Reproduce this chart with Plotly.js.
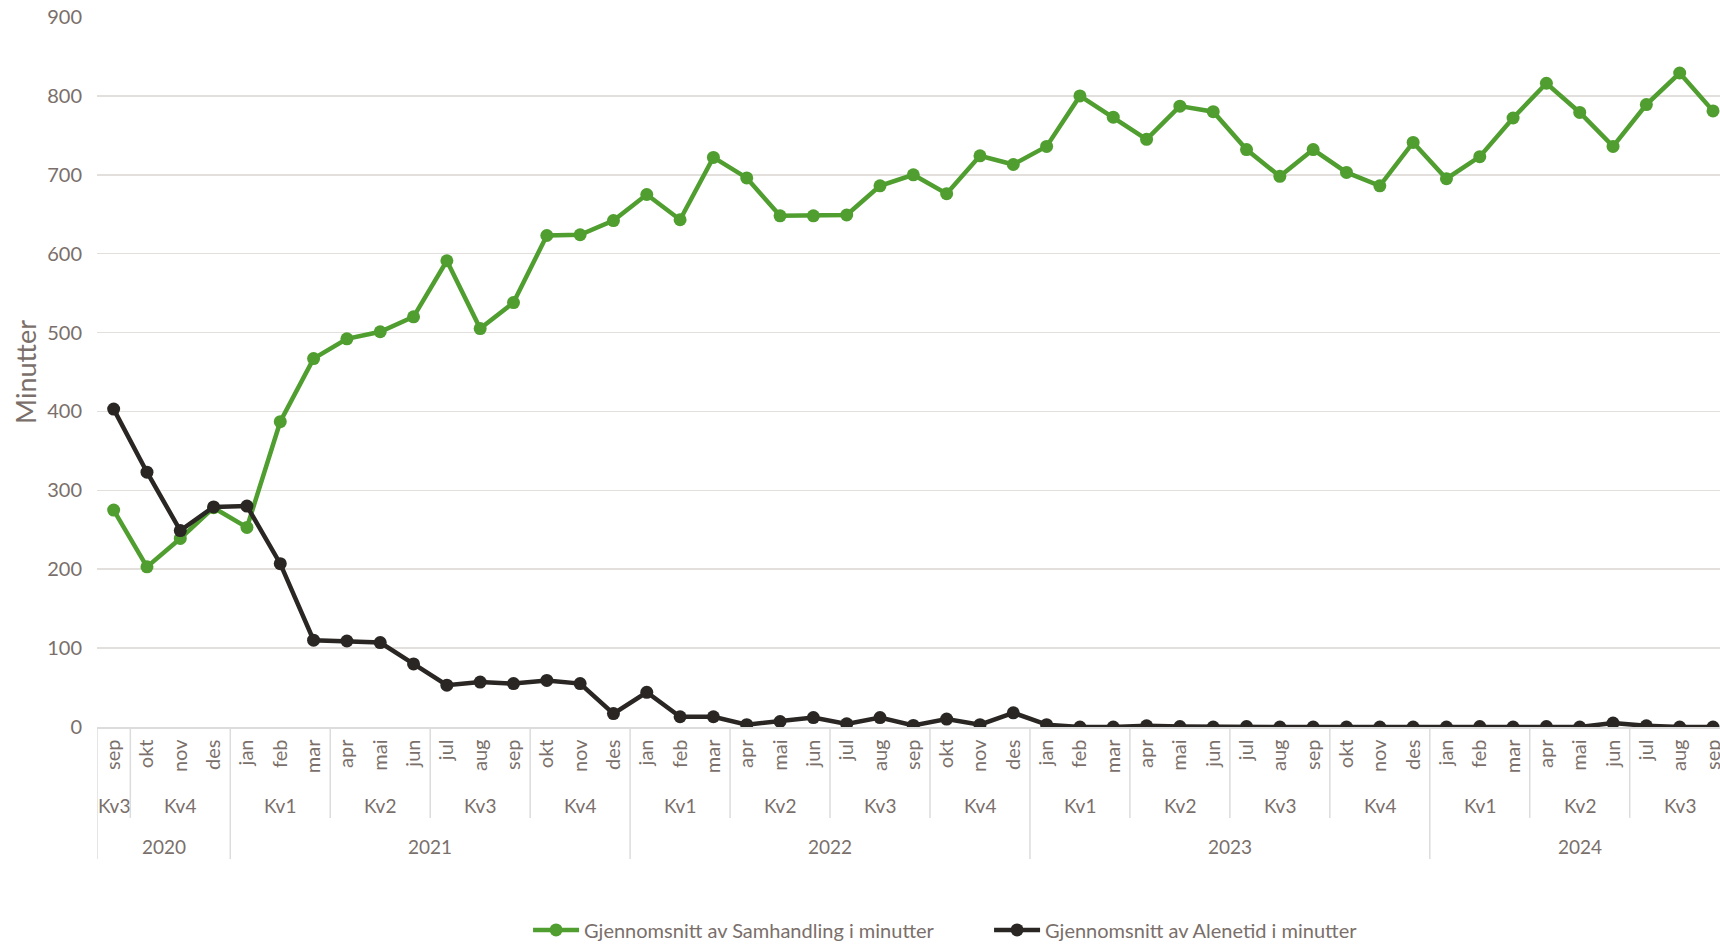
<!DOCTYPE html>
<html>
<head>
<meta charset="utf-8">
<script src="https://cdn.plot.ly/plotly-3.0.1.min.js"></script>
<style>html,body{margin:0;padding:0;overflow:hidden;background:#fff;}#chart{width:1720px;height:945px;}</style>
</head>
<body>
<div id="chart"></div>
<script>
const months = ['sep','okt','nov','des',
  'jan','feb','mar','apr','mai','jun','jul','aug','sep','okt','nov','des',
  'jan','feb','mar','apr','mai','jun','jul','aug','sep','okt','nov','des',
  'jan','feb','mar','apr','mai','jun','jul','aug','sep','okt','nov','des',
  'jan','feb','mar','apr','mai','jun','jul','aug','sep'];
const quarters = ['Kv3','Kv4','Kv4','Kv4',
  'Kv1','Kv1','Kv1','Kv2','Kv2','Kv2','Kv3','Kv3','Kv3','Kv4','Kv4','Kv4',
  'Kv1','Kv1','Kv1','Kv2','Kv2','Kv2','Kv3','Kv3','Kv3','Kv4','Kv4','Kv4',
  'Kv1','Kv1','Kv1','Kv2','Kv2','Kv2','Kv3','Kv3','Kv3','Kv4','Kv4','Kv4',
  'Kv1','Kv1','Kv1','Kv2','Kv2','Kv2','Kv3','Kv3','Kv3'];
const years = ['2020','2020','2020','2020',
  '2021','2021','2021','2021','2021','2021','2021','2021','2021','2021','2021','2021',
  '2022','2022','2022','2022','2022','2022','2022','2022','2022','2022','2022','2022',
  '2023','2023','2023','2023','2023','2023','2023','2023','2023','2023','2023','2023',
  '2024','2024','2024','2024','2024','2024','2024','2024','2024'];
const samhandling = [275,203,239,278,
  253,387,467,492,501,520,591,505,538,623,624,642,
  675,643,722,696,648,648,649,686,700,676,724,713,
  736,800,773,745,787,780,732,698,732,703,686,741,
  695,723,772,816,779,736,789,829,781];
const alenetid = [403,323,249,279,
  280,207,110,109,107,80,53,57,55,59,55,17,
  44,13,13,3,7,12,4,12,2,10,3,18,
  3,0,0,1.5,0.5,0,0.5,0,0,0,0,0,
  0,0.5,0,0.5,0,5,1.5,0,0];
const seriesNames = ['Gjennomsnitt av Samhandling i minutter','Gjennomsnitt av Alenetid i minutter'];

const idx = months.map((m,i)=>i);
const textColor = '#7a6f6a';
const font = 'Lato, "Open Sans", sans-serif';
const green = '#4f9e2f';
const dark = '#2a2624';
const sepColor = '#dcdcdc';

function runs(keys){
  const out=[]; let start=0;
  for(let i=1;i<=keys.length;i++){
    if(i===keys.length || keys[i]!==keys[start]){ out.push({start:start,end:i-1}); start=i; }
  }
  return out;
}
const qRuns = runs(quarters.map((q,i)=>years[i]+q));
const yRuns = runs(years);

const annotations=[]; const shapes=[];
const qY=-0.11, yY=-0.168, qLine=-0.128, yLine=-0.186;
qRuns.forEach(r=>{
  annotations.push({x:(r.start+r.end)/2, y:qY, xref:'x', yref:'paper', text:quarters[r.start], showarrow:false,
    font:{family:font,size:19,color:textColor}, xanchor:'center', yanchor:'middle'});
});
yRuns.forEach(r=>{
  annotations.push({x:(r.start+r.end)/2, y:yY, xref:'x', yref:'paper', text:years[r.start], showarrow:false,
    font:{family:font,size:19,color:textColor}, xanchor:'center', yanchor:'middle'});
});
const yStarts = new Set(yRuns.map(r=>r.start));
qRuns.forEach(r=>{
  const isYear = yStarts.has(r.start);
  shapes.push({type:'line', xref:'x', yref:'paper', x0:r.start-0.5, x1:r.start-0.5, y0:0, y1:isYear?yLine:qLine,
    line:{color:sepColor,width:1.5}, layer:'below'});
});

const traces = [
  {x:idx, y:samhandling, name:seriesNames[0], type:'scatter', mode:'lines+markers',
   line:{color:green,width:4.5}, marker:{color:green,size:13}},
  {x:idx, y:alenetid, name:seriesNames[1], type:'scatter', mode:'lines+markers',
   line:{color:dark,width:4.5}, marker:{color:dark,size:13}}
];

const layout = {
  width:1720, height:945,
  margin:{l:97,r:0,t:17,b:218, autoexpand:false},
  paper_bgcolor:'#fff', plot_bgcolor:'#fff',
  font:{family:font,size:18,color:textColor},
  showlegend:true,
  legend:{orientation:'h', x:0.2656, xanchor:'left', y:0.016, yref:'container', yanchor:'middle',
    font:{family:font,size:20,color:textColor}, entrywidth:400, itemwidth:46},
  xaxis:{range:[-0.5,48.21], tickmode:'array', tickvals:idx, ticktext:months, tickangle:-90,
    showgrid:false, zeroline:false, showline:true, linecolor:sepColor, linewidth:1.5,
    ticks:'', ticklabelstandoff:3, ticklabeloverflow:'allow',
    tickfont:{family:font,size:20,color:textColor}, fixedrange:true},
  yaxis:{range:[0,900], dtick:100, showgrid:true, gridcolor:'#e3dfdc', gridwidth:1.5,
    zeroline:false, showline:false, ticks:'', ticklabelstandoff:14,
    tickfont:{family:font,size:20,color:textColor},
    title:{text:'Minutter', font:{family:font,size:27,color:textColor}, standoff:2}},
  annotations:annotations, shapes:shapes
};

Plotly.newPlot('chart', traces, layout, {displayModeBar:false, staticPlot:true});
</script>
</body>
</html>
